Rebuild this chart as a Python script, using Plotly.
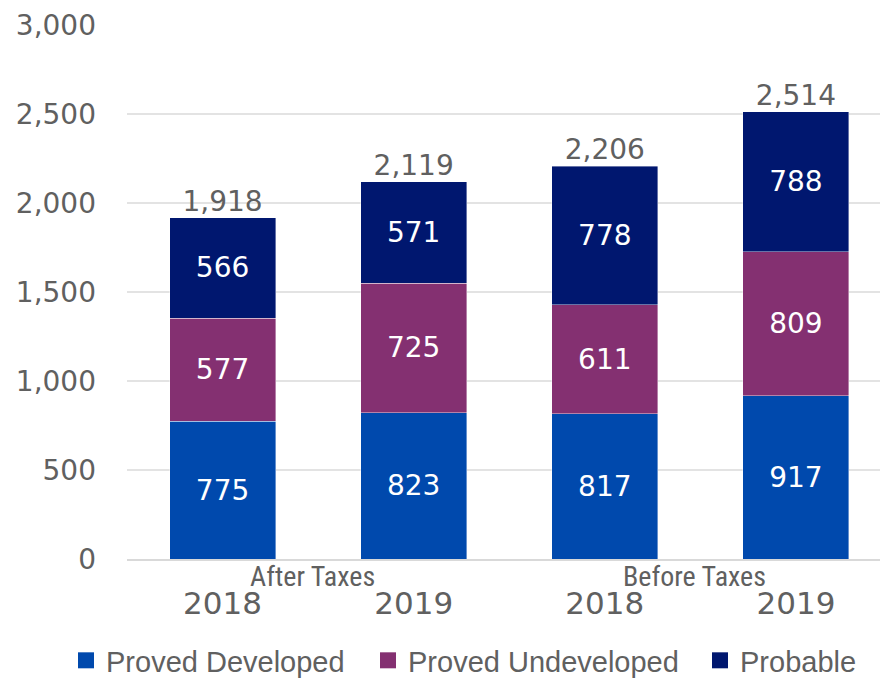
import plotly.graph_objects as go

groups = ["After Taxes", "Before Taxes"]
years = ["2018", "2019", "2018", "2019"]
proved_developed = [775, 823, 817, 917]
proved_undeveloped = [577, 725, 611, 809]
probable = [566, 571, 778, 788]
totals = [1918, 2119, 2206, 2514]

pos = list(range(len(years)))
FONT = "Liberation Sans, Arial, sans-serif"
NUMFONT = "DejaVu Sans, Verdana, sans-serif"
NARROW = "Liberation Sans Narrow, Arial Narrow, Roboto Condensed, sans-serif"
GREY = "#606060"

fig = go.Figure()
series = [
    ("Proved Developed", proved_developed, "#0049AD", 257),
    ("Proved Undeveloped", proved_undeveloped, "#843071", 287),
    ("Probable", probable, "#00176F", 125),
]
for name, vals, col, lw in series:
    fig.add_trace(go.Bar(
        x=pos, y=vals, name=name, width=0.555, showlegend=False,
        marker=dict(color=col, line=dict(color="rgba(255,255,255,0.5)", width=0.8)),
        text=[f"{v:,}" for v in vals], textposition="inside",
        insidetextanchor="middle",
        textfont=dict(color="white", size=28, family=NUMFONT),
        hoverinfo="skip",
    ))
# legend proxies (square swatches)
for name, vals, col, lw in series:
    fig.add_trace(go.Scatter(
        x=[None], y=[None], mode="markers", name=name, legendwidth=lw,
        marker=dict(symbol="square", size=16, color=col),
    ))

fig.add_trace(go.Scatter(
    x=pos, y=totals, mode="text",
    text=[f"{v:,}" for v in totals], textposition="top center",
    textfont=dict(color=GREY, size=28, family=NUMFONT),
    showlegend=False, cliponaxis=False, hoverinfo="skip",
))

for i, g in enumerate(groups):
    fig.add_annotation(
        x=2 * i + 0.47, xref="x", y=-0.032, yref="paper", yanchor="middle",
        text=g, showarrow=False,
        font=dict(color=GREY, size=28, family=NARROW),
    )

fig.update_layout(
    barmode="stack",
    width=880, height=681,
    margin=dict(l=127, r=0, t=25, b=122, autoexpand=False),
    paper_bgcolor="white", plot_bgcolor="white",
    font=dict(family=FONT, color=GREY),
    showlegend=True,
    legend=dict(orientation="h", xref="paper", x=-0.081, xanchor="left",
                y=-0.19, yanchor="middle",
                font=dict(size=29, color=GREY, family=FONT), traceorder="normal",
                itemwidth=30),
)
fig.update_xaxes(
    range=[-0.5, 3.44], tickmode="array", tickvals=pos, ticktext=years,
    tickfont=dict(size=31, color=GREY, family=NUMFONT),
    showgrid=False, zeroline=False, showline=True, linecolor="#D9D9D9", linewidth=1.5,
    ticks="", ticklabelstandoff=16, automargin=False,
)
fig.update_yaxes(
    range=[0, 3000], tickmode="array", tickvals=[0, 500, 1000, 1500, 2000, 2500, 3000],
    tickformat=",", tickfont=dict(size=28, color=GREY, family=NUMFONT),
    showgrid=True, gridcolor="#E3E3E3", gridwidth=1.5, zeroline=False, showline=False,
    ticklabelstandoff=30, automargin=False,
)

fig.write_html("out.html", config={"displayModeBar": False},
               post_script="document.body.style.margin='0';document.body.style.overflow='hidden';")
